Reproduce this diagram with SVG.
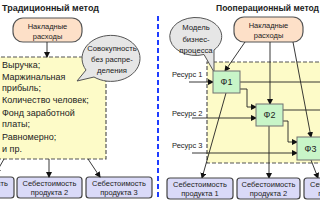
<svg xmlns="http://www.w3.org/2000/svg" width="320" height="202" viewBox="0 0 320 202">
<style>
text{font-family:"Liberation Sans",Arial,sans-serif;fill:#222}
.title{font-size:9px;font-weight:bold}
.lst{font-size:9px}
.sm{font-size:7.5px;text-anchor:middle}
.bub{font-size:7.7px;text-anchor:middle}
.res{font-size:7.5px}
.f{font-size:9px;text-anchor:middle}
.ovh{fill:#fde0c8;stroke:#555;stroke-width:1.2}
.cost{fill:#dadaf8;stroke:#444;stroke-width:1.2}
.area{fill:#fdfbc8;stroke:#555;stroke-width:1.2;stroke-dasharray:4 2}
.bubble{fill:#e6e6e6;stroke:#555;stroke-width:1}
.fn{fill:#c8f5c8;stroke:#707070;stroke-width:1}
.c{fill:none;stroke:#222;stroke-width:0.9}
.ca{fill:none;stroke:#222;stroke-width:0.9;marker-end:url(#ah)}
</style>
<defs>
<marker id="ah" markerWidth="6" markerHeight="6" refX="5" refY="3" orient="auto" markerUnits="userSpaceOnUse">
<path d="M0,0 L6,3 L0,6 Z" fill="#111"/>
</marker>
</defs>
<rect width="320" height="202" fill="#fff"/>

<!-- divider -->
<line x1="158" y1="16" x2="158" y2="200" stroke="#1f3cff" stroke-width="2" stroke-dasharray="5 3"/>

<!-- LEFT PANEL -->
<g id="title-left"><text class="title" x="2" y="11">Традиционный метод</text></g>
<g id="area-left"><rect class="area" x="-5" y="57" width="111" height="102"/>
<text class="lst" x="2" y="68">Выручка;</text>
<text class="lst" x="2" y="80">Маржинальная</text>
<text class="lst" x="2" y="91">прибыль;</text>
<text class="lst" x="2" y="103">Количество человек;</text>
<text class="lst" x="2" y="116">Фонд заработной</text>
<text class="lst" x="2" y="127">платы;</text>
<text class="lst" x="2" y="140">Равномерно;</text>
<text class="lst" x="2" y="152">и пр.</text>
</g>
<g id="ovh-left"><rect class="ovh" x="13" y="18" width="69" height="24" rx="10"/>
<text class="sm" x="47.5" y="28.5">Накладные</text>
<text class="sm" x="47.5" y="38.5">расходы</text></g>
<g id="bubble-left"><path class="bubble" d="M86,70 A29,23 0 1 1 94,77 L77,81 Z"/>
<text class="bub" x="112" y="50.5">Совокупность</text>
<text class="bub" x="112" y="61.5">без распре-</text>
<text class="bub" x="112" y="73">деления</text></g>
<g id="cost-left-1"><rect class="cost" x="-52" y="177" width="66" height="21" rx="3"/>
<text class="sm" x="-19" y="185.5">Себестоимость</text>
<text class="sm" x="-19" y="195">продукта 1</text></g>
<g id="cost-left-2"><rect class="cost" x="17" y="177" width="65" height="21" rx="3"/>
<text class="sm" x="49.5" y="185.5">Себестоимость</text>
<text class="sm" x="49.5" y="195">продукта 2</text></g>
<g id="cost-left-3"><rect class="cost" x="86" y="177" width="66" height="21" rx="3"/>
<text class="sm" x="119" y="185.5">Себестоимость</text>
<text class="sm" x="119" y="195">продукта 3</text></g>

<!-- RIGHT PANEL -->
<g id="title-right"><text class="title" x="216" y="11" textLength="103" lengthAdjust="spacingAndGlyphs">Пооперационный метод</text></g>
<g id="area-right"><rect class="area" x="207" y="62" width="125" height="101"/></g>
<g id="ovh-right"><rect class="ovh" x="234" y="17" width="69" height="25" rx="10"/>
<text class="sm" x="268.5" y="27.5">Накладные</text>
<text class="sm" x="268.5" y="37.5">расходы</text></g>
<g id="bubble-right"><path class="bubble" d="M204,54.5 A26,19 0 1 1 214,50 L214,72 Z"/>
<text class="bub" x="196" y="30">Модель</text>
<text class="bub" x="196" y="41.5">бизнес-</text>
<text class="bub" x="196" y="53">процесса</text></g>
<g id="res1"><text class="res" x="172" y="77">Ресурс 1</text></g>
<g id="res2"><text class="res" x="172" y="116">Ресурс 2</text></g>
<g id="res3"><text class="res" x="172" y="148">Ресурс 3</text></g>

<g id="connectors">
<line class="ca" x1="47" y1="42" x2="47" y2="57"/>
<line class="ca" x1="49" y1="159" x2="49" y2="177"/>
<line class="ca" x1="88" y1="159" x2="100" y2="177"/>
<line class="ca" x1="4" y1="159" x2="-4" y2="173"/>
<line class="ca" x1="245" y1="42" x2="225" y2="71"/>
<line class="ca" x1="270" y1="42" x2="270" y2="104"/>
<line class="ca" x1="293" y1="42" x2="311" y2="137"/>
<line class="ca" x1="189" y1="82" x2="213" y2="82"/>
<line class="ca" x1="192" y1="118" x2="256" y2="118"/>
<line class="ca" x1="192" y1="153" x2="297" y2="153"/>
<line class="c" x1="240" y1="82" x2="320" y2="82"/>
<polyline class="ca" points="240,89 247,89 247,107 256,107"/>
<line class="c" x1="283" y1="110" x2="320" y2="110"/>
<polyline class="ca" points="283,121 288,121 288,142 297,142"/>
<line class="ca" x1="226" y1="93" x2="202" y2="178"/>
<line class="ca" x1="269" y1="126" x2="269" y2="178"/>
<line class="ca" x1="311" y1="160" x2="318" y2="178"/>
</g>

<g id="f1"><rect class="fn" x="213" y="71" width="27" height="22"/><text class="f" x="226.5" y="85">Ф1</text></g>
<g id="f2"><rect class="fn" x="256" y="104" width="27" height="22"/><text class="f" x="269.5" y="118">Ф2</text></g>
<g id="f3"><rect class="fn" x="297" y="137" width="27" height="23"/><text class="f" x="310.5" y="151.5">Ф3</text></g>

<g id="cost-right-1"><rect class="cost" x="167" y="178" width="66" height="21" rx="3"/>
<text class="sm" x="200" y="186.5">Себестоимость</text>
<text class="sm" x="200" y="196">продукта 1</text></g>
<g id="cost-right-2"><rect class="cost" x="237" y="178" width="63" height="21" rx="3"/>
<text class="sm" x="268.5" y="186.5">Себестоимость</text>
<text class="sm" x="268.5" y="196">продукта 2</text></g>
<g id="cost-right-3"><rect class="cost" x="304" y="178" width="66" height="21" rx="3"/>
<text class="sm" x="337" y="186.5">Себестоимость</text>
<text class="sm" x="337" y="196">продукта 3</text></g>
</svg>
